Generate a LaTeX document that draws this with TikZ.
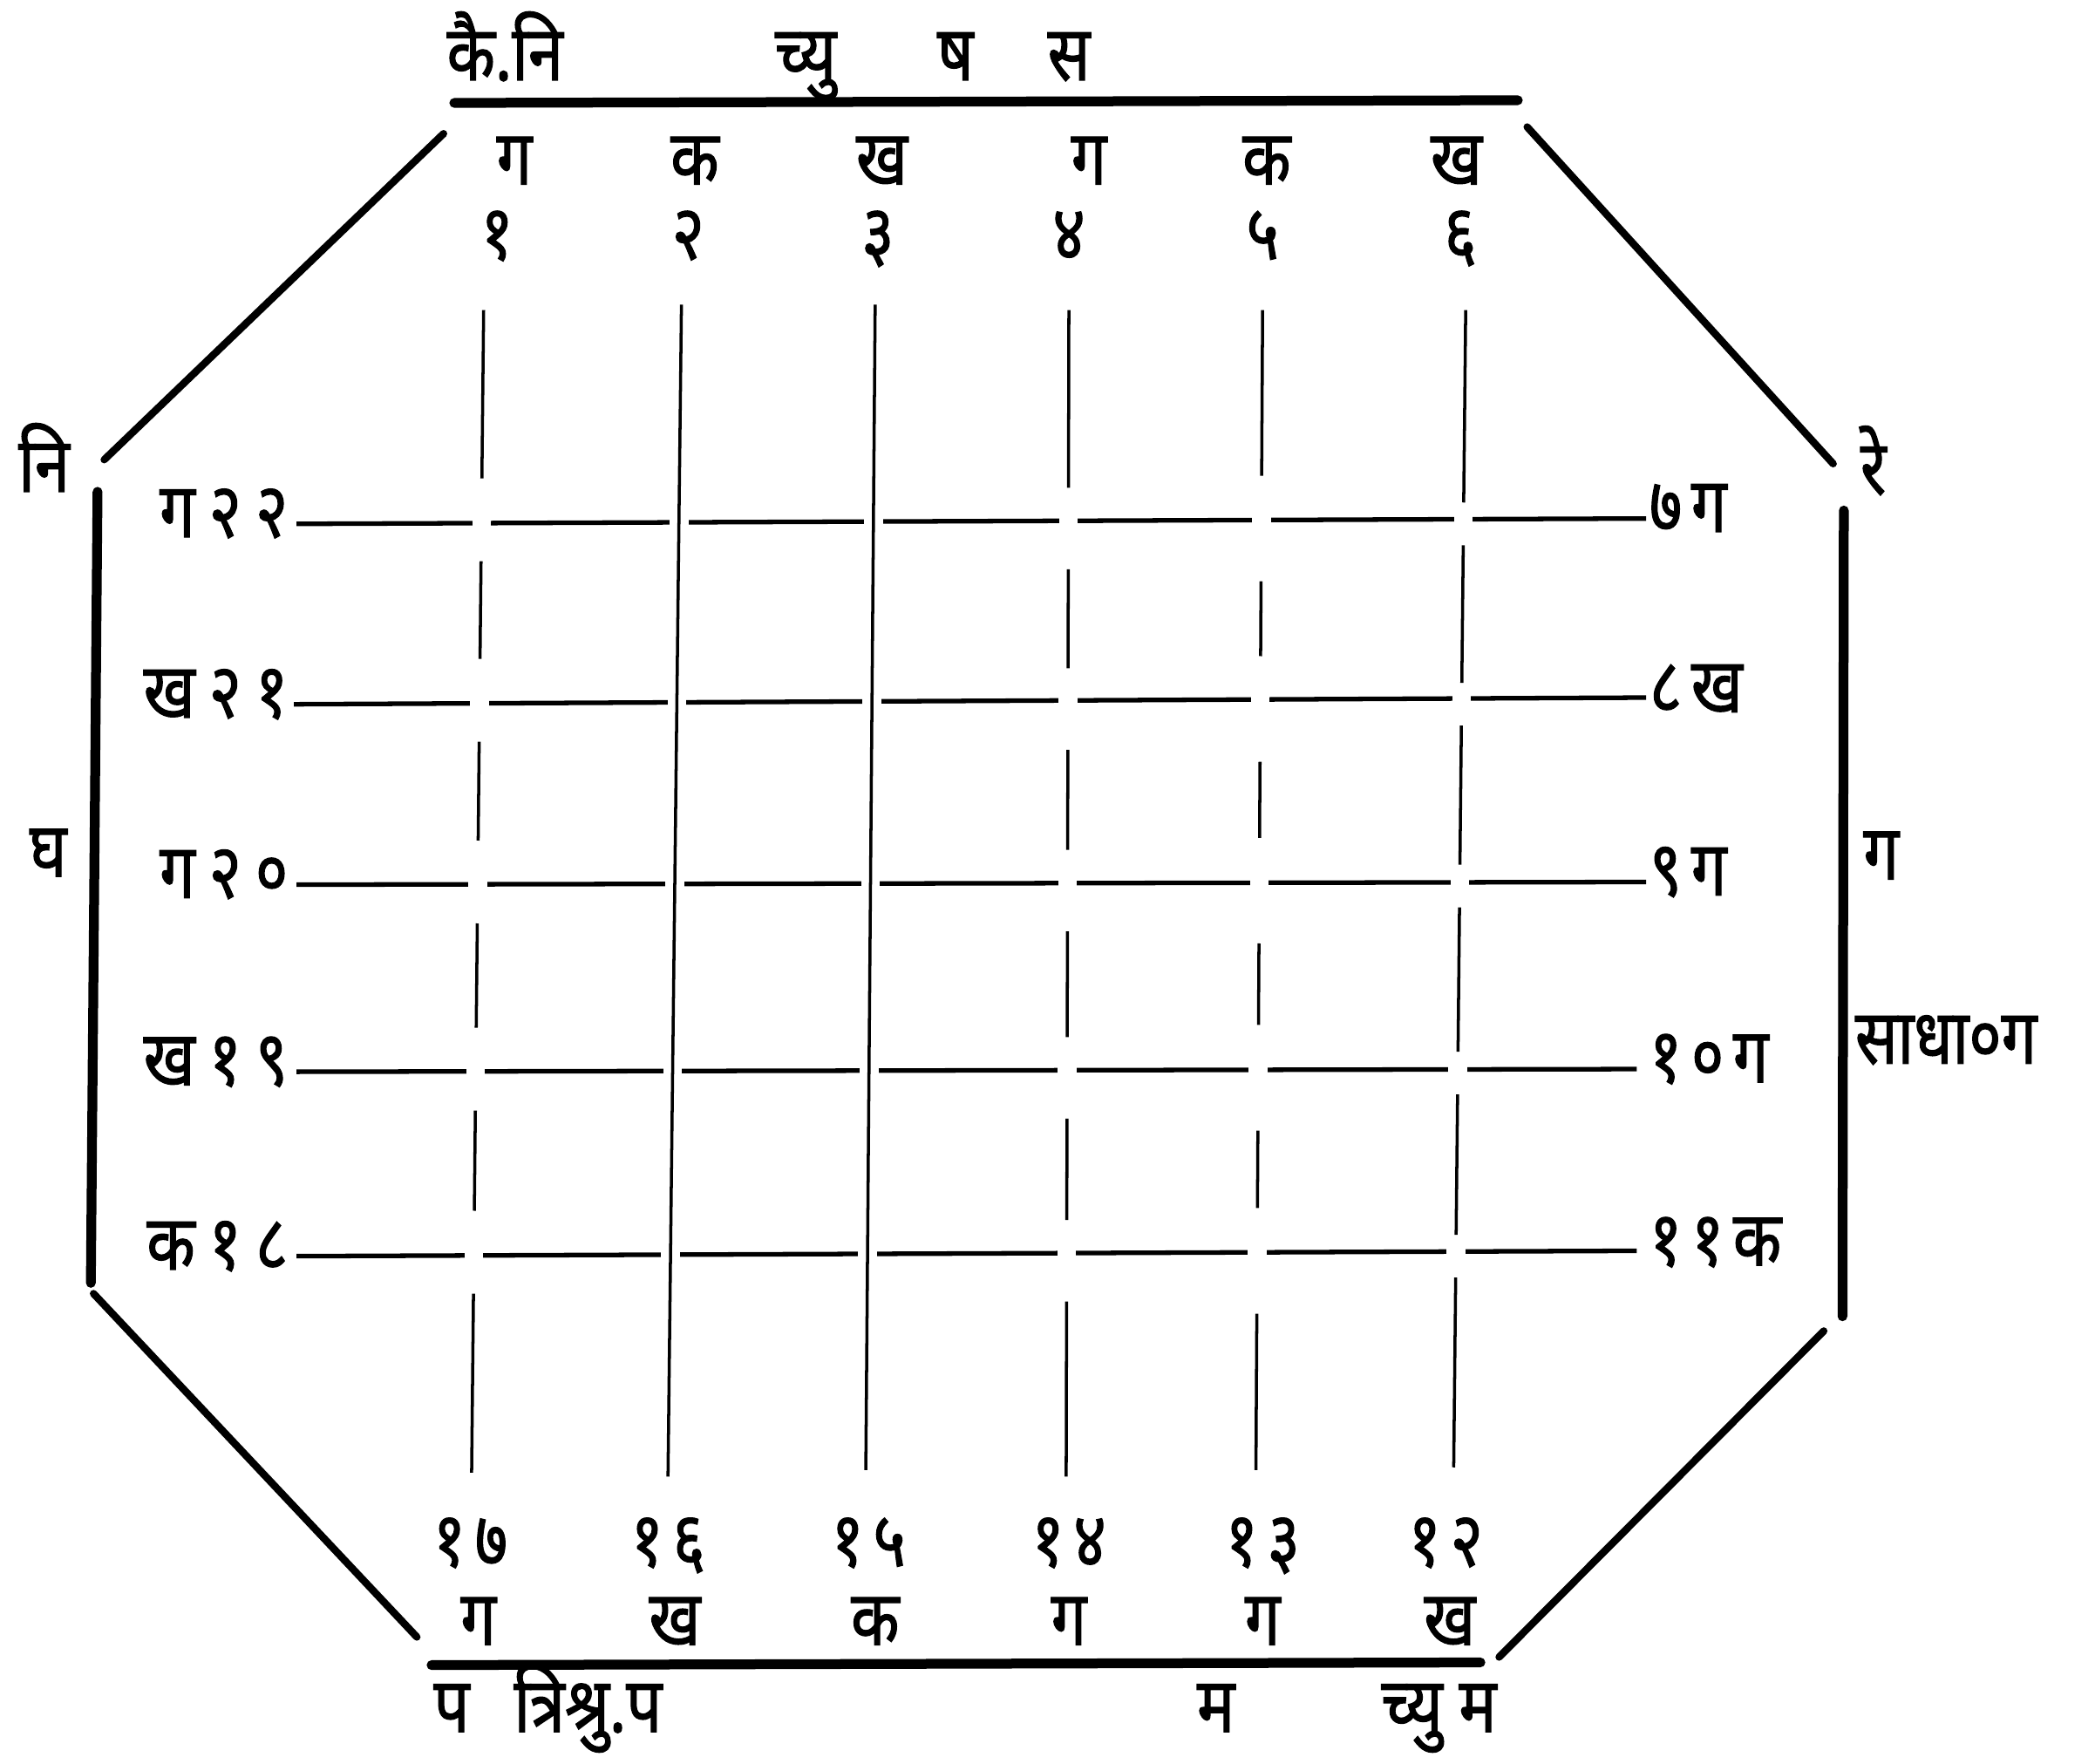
\documentclass[tikz,border=0pt]{standalone}
\usepackage{fontspec}
\setmainfont[Script=Devanagari,FakeStretch=0.82,FakeBold=1.3]{Noto Sans}
\newfontfamily\spaced[Script=Devanagari,FakeStretch=0.82,FakeBold=1.3,LetterSpace=12]{Noto Sans}
\newfontfamily\wide[Script=Devanagari,FakeStretch=0.82,FakeBold=1.3,LetterSpace=18]{Noto Sans}
\newcommand\vsegm[4]{\draw[vline] ({#1+(#2-#1)*(#3-230)/870},#3) -- ({#1+(#2-#1)*(#4-230)/870},#4);}
\begin{document}
\begin{tikzpicture}[x=0.015325cm,y=-0.015325cm,
  lbl/.style={inner sep=0pt,anchor=base,font=\fontsize{25}{28}\selectfont},
  slbl/.style={lbl,font=\fontsize{25}{28}\selectfont\spaced},
  wlbl/.style={lbl,font=\fontsize{25}{28}\selectfont\wide},
  edge/.style={line width=3.2pt,line cap=round},
  diag/.style={line width=2.4pt,line cap=round},
  hline/.style={line width=1.5pt},
  vline/.style={line width=1pt}]
\useasboundingbox (0,0) rectangle (1568,1320);
% octagon
\draw[edge] (340,77) -- (1136,75);
\draw[diag] (332,100) -- (78,344);
\draw[edge] (73,368) -- (68,960);
\draw[diag] (70,968) -- (312,1225);
\draw[edge] (323,1246) -- (1108,1244);
\draw[diag] (1122,1240) -- (1365,996);
\draw[edge] (1380,382) -- (1379,985);
\draw[diag] (1143,95) -- (1372,347);
% horizontal lines
\foreach \yl/\yr/\xl/\xr in {392/388/222/1232,527/522/220/1232,662/660/222/1232,802/800/222/1225,940/936/222/1225}{
  \draw[hline] (\xl,\yl) -- (\xr,\yr);
  \foreach \xt/\xb in {362/353,510/500,655/648,800/798,945/940,1097/1088}{
    \pgfmathsetmacro\yy{(\yl+\yr)/2}
    \pgfmathsetmacro\xx{\xt+(\xb-\xt)*(\yy-230)/870}
    \fill[white] (\xx-7,\yy-8) rectangle (\xx+7,\yy+8);
  }
}
% continuous verticals
\vsegm{510}{500}{228}{1105}
\vsegm{655}{648}{228}{1100}
% broken verticals
\foreach \xt/\xb/\ga/\gb/\ye in {362/353/32/30/1102,800/798/25/36/1105,945/940/34/45/1100,1097/1088/14/18/1098}{
  \vsegm{\xt}{\xb}{232}{390-\ga}
  \vsegm{\xt}{\xb}{390+\gb}{525-\ga}
  \vsegm{\xt}{\xb}{525+\gb}{661-\ga}
  \vsegm{\xt}{\xb}{661+\gb}{801-\ga}
  \vsegm{\xt}{\xb}{801+\gb}{938-\ga}
  \vsegm{\xt}{\xb}{938+\gb}{\ye}
}
% header
\node[lbl] (kaini) at (378,60) {कै.नि};
\node[lbl] (chyu) at (603,60) {च्यु};
\node[lbl] (sha) at (715,60) {ष};
\node[lbl] (sa) at (800,60) {स};
% top letters and digits
\foreach \n/\x/\t in {a/385/ग,b/520/क,c/660/ख,d/815/ग,e/948/क,f/1090/ख}
  \node[lbl] (tl\n) at (\x,138) {\t};
\foreach \n/\x/\t in {a/372/१,b/515/२,c/657/३,d/800/४,e/945/५,f/1093/६}
  \node[lbl] (td\n) at (\x,194) {\t};
% bottom digits and letters
\foreach \n/\x/\t in {a/352/१७,b/500/१६,c/650/१५,d/800/१४,e/945/१३,f/1082/१२}
  \node[slbl] (bd\n) at (\x,1172) {\t};
\foreach \n/\x/\t in {a/358/ग,b/505/ख,c/655/क,d/800/ग,e/945/ग,f/1085/ख}
  \node[lbl] (bl\n) at (\x,1231) {\t};
% bottom labels
\node[lbl] (pa) at (338,1296) {प};
\node[lbl] (trish) at (440,1296) {त्रिश्रु.प};
\node[lbl] (ma) at (910,1296) {म};
\node[lbl] (chyuma) at (1077,1296) {च्यु म};
% left labels
\node[lbl] (ni) at (33,368) {नि};
\node[lbl] (gha) at (36,656) {घ};
\foreach \n/\y/\t in {a/402/ग२२,b/537/ख२१,c/672/ग२०,d/812/ख१९,e/950/क१८}
  \node[wlbl,anchor=base east] (L\n) at (216,\y) {\t};
\foreach \n/\y/\t in {a/398/७ग,b/533/८ख,c/670/९ग,d/810/१०ग,e/947/११क}
  \node[slbl,anchor=base west] (R\n) at (1234,\y) {\t};
% right labels
\node[lbl] (re) at (1402,370) {रे};
\node[lbl] (ga) at (1408,658) {ग};
\node[lbl,anchor=base west] (sadha) at (1388,796) {साधा०ग};
\end{tikzpicture}
\end{document}
